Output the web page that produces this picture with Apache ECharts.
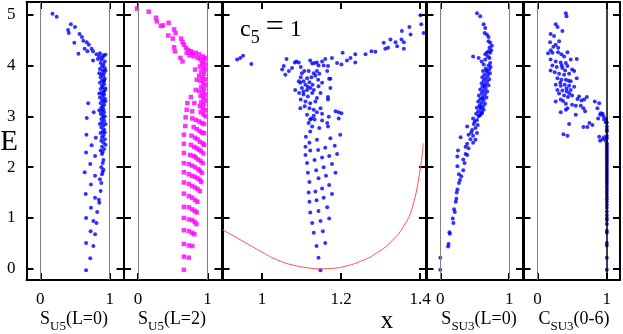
<!DOCTYPE html>
<html>
<head>
<meta charset="utf-8">
<title>echarts</title>
<script src="https://cdn.jsdelivr.net/npm/echarts@6/dist/echarts.min.js"></script>
<style>
  html, body { margin: 0; padding: 0; width: 100%; height: 100%; overflow: hidden; background: #fff; }
  #main { width: 623px; height: 334px; }
</style>
</head>
<body>
<div id="main"></div>
<script>
// ticks
var yTicks = [0, 1, 2, 3, 4, 5];
var unitTicks = [0, 1];
var xTicks = [1, 1.2, 1.4];

// S_U5(L=0)  [s, E]
var sU5L0 = [
  [0.175,5.02],[0.236,4.96],[0.44,4.81],[0.50,4.76],[0.40,4.70],[0.41,4.64],[0.565,4.62],[0.60,4.56],
  [0.62,4.49],[0.49,4.45],[0.67,4.46],[0.70,4.41],[0.64,4.33],[0.68,4.28],[0.74,4.33],[0.76,4.28],
  [0.55,4.23],[0.76,4.10],[0.81,4.22],[0.86,4.24],[0.91,4.20],[0.94,4.21],[0.83,4.13],[0.88,4.12],
  [0.93,4.08],[0.85,4.18],[0.90,4.16],
  [0.87,4.05],[0.91,4.02],[0.89,3.98],[0.93,3.95],[0.86,3.93],[0.90,3.90],[0.92,3.86],[0.88,3.83],
  [0.91,3.80],[0.87,3.77],[0.93,3.74],[0.89,3.71],[0.91,3.68],[0.86,3.66],[0.92,3.63],[0.89,3.60],
  [0.90,3.57],[0.87,3.54],[0.93,3.51],[0.91,3.48],[0.88,3.46],[0.92,3.43],[0.90,3.40],[0.86,3.37],
  [0.93,3.35],[0.89,3.32],[0.91,3.29],[0.87,3.26],[0.92,3.23],[0.90,3.20],[0.88,3.17],[0.91,3.14],
  [0.89,3.11],[0.92,3.08],[0.87,3.05],[0.90,3.02],[0.91,2.98],[0.88,2.95],[0.92,2.92],[0.89,2.88],
  [0.86,2.85],[0.91,2.82],[0.88,2.78],[0.92,2.74],[0.90,2.70],[0.87,2.67],[0.91,2.63],[0.89,2.59],
  [0.93,2.55],[0.88,2.52],[0.91,2.48],[0.94,2.44],[0.89,2.40],[0.92,2.36],[0.87,2.33],[0.90,2.30],
  [0.94,3.90],[0.85,3.85],[0.92,3.70],[0.94,3.55],[0.85,3.45],[0.94,3.30],[0.93,3.00],[0.85,3.12],
  [0.94,2.85],[0.93,2.68],
  [0.69,3.26],[0.77,3.08],[0.67,2.97],[0.665,2.64],[0.80,2.58],[0.74,2.43],[0.79,2.22],[0.66,2.29],
  [0.72,2.06],[0.64,1.90],[0.79,1.83],[0.73,1.66],[0.655,1.47],[0.79,1.40],[0.73,1.20],[0.66,1.00],
  [0.765,0.94],[0.81,0.90],[0.725,0.74],[0.79,0.68],[0.66,0.51],[0.765,0.45],[0.72,0.21],[0.66,-0.03],
  [0.89,2.26],[0.91,2.14],[0.88,2.00],[0.90,1.91],[0.89,1.86],[0.86,1.76],[0.88,1.69],[0.87,1.53],
  [0.845,1.36],[0.85,1.30],[0.82,1.12],[0.90,2.08],[0.91,1.95]
];

// S_U5(L=2)
var sU5L2 = [
  [-0.015,5.12],[0.155,5.06],[0.26,4.94],[0.27,4.87],[0.36,4.79],[0.44,4.84],[0.33,4.78],[0.52,4.71],
  [0.54,4.64],[0.435,4.59],[0.50,4.53],[0.62,4.53],[0.64,4.46],[0.66,4.41],[0.52,4.36],[0.53,4.28],
  [0.69,4.35],[0.72,4.31],[0.76,4.28],[0.78,4.25],[0.83,4.25],[0.61,4.15],[0.64,4.08],[0.88,4.22],
  [0.93,4.18],[0.97,4.15],[0.70,4.25],[0.74,4.20],[0.80,4.18],[0.86,4.15],[0.90,4.12],[0.95,4.10],
  [0.92,4.05],[0.96,4.02],[0.89,3.98],[0.94,3.95],[0.97,3.92],[0.91,3.88],[0.95,3.84],[0.88,3.80],
  [0.93,3.77],[0.96,3.73],[0.90,3.70],[0.94,3.66],[0.97,3.62],[0.91,3.58],[0.95,3.54],[0.88,3.50],
  [0.93,3.47],[0.96,3.43],[0.90,3.40],[0.94,3.36],[0.97,3.32],[0.91,3.28],[0.95,3.24],[0.89,3.20],
  [0.93,3.16],[0.96,3.12],[0.90,3.08],[0.94,3.04],[0.97,3.00],
  [0.82,3.92],[0.845,3.72],[0.83,3.52],[0.76,3.38],[0.81,3.26],[0.71,3.26],[0.70,3.13],[0.78,3.10],
  [0.685,2.98],[0.78,2.96],[0.83,2.93],[0.88,2.90],[0.92,2.87],[0.95,2.85],
  [0.68,2.81],[0.80,2.79],[0.845,2.75],[0.885,2.71],[0.92,2.68],[0.95,2.67],
  [0.66,2.64],[0.77,2.62],[0.82,2.58],[0.855,2.55],[0.89,2.50],[0.93,2.47],[0.95,2.44],
  [0.66,2.46],[0.76,2.44],[0.81,2.40],[0.845,2.37],[0.88,2.34],[0.91,2.31],[0.94,2.27],
  [0.66,2.28],[0.75,2.24],[0.80,2.22],[0.83,2.19],[0.865,2.15],[0.90,2.12],[0.93,2.08],
  [0.66,2.08],[0.73,2.06],[0.78,2.03],[0.82,2.00],[0.865,1.96],[0.89,1.93],[0.92,1.89],
  [0.66,1.90],[0.73,1.86],[0.78,1.83],[0.82,1.81],[0.855,1.78],[0.89,1.75],[0.91,1.71],
  [0.66,1.70],[0.73,1.67],[0.78,1.63],[0.82,1.60],[0.855,1.57],[0.89,1.53],
  [0.66,1.48],[0.73,1.43],[0.78,1.40],[0.82,1.35],[0.855,1.32],
  [0.66,1.22],[0.73,1.21],[0.78,1.17],[0.815,1.14],[0.845,1.11],
  [0.66,1.00],[0.73,0.97],[0.78,0.96],[0.815,0.92],[0.84,0.88],
  [0.66,0.76],[0.73,0.74],[0.78,0.71],[0.81,0.68],
  [0.66,0.49],[0.73,0.46],[0.78,0.45],
  [0.66,0.24],[0.73,0.22],
  [0.66,-0.02]
];

// c5 = 1 panel  [x, E]
var xPts = [
  [0.937,4.12],[0.945,4.15],[0.952,4.19],[0.973,4.03],
  [1.177,4.15],[1.190,4.05],[1.201,4.02],[1.204,4.25],[1.215,4.10],[1.224,4.15],[1.236,4.22],[1.236,4.06],
  [1.262,4.22],[1.277,4.28],[1.287,4.27],[1.308,4.45],[1.312,4.33],[1.319,4.35],[1.325,4.51],[1.338,4.46],
  [1.342,4.38],[1.353,4.51],[1.354,4.68],[1.359,4.46],[1.359,4.33],[1.373,4.76],[1.376,4.61],[1.401,4.99],
  [1.403,4.81],[1.409,4.64],[1.165,3.89],[1.173,3.74],[1.167,3.99],
  [1.148,-0.03],[1.143,0.22],[1.138,0.45],[1.160,0.51],[1.131,0.71],[1.154,0.74],[1.127,0.90],[1.148,0.94],
  [1.170,0.99],[1.122,1.11],[1.143,1.14],[1.165,1.21],[1.120,1.32],[1.138,1.35],[1.156,1.40],[1.118,1.50],
  [1.135,1.52],[1.152,1.58],[1.177,1.47],[1.120,1.71],[1.143,1.78],[1.162,1.83],[1.170,1.65],[1.116,1.89],
  [1.137,1.94],[1.156,2.00],[1.177,2.06],[1.186,1.89],[1.114,2.08],[1.133,2.14],[1.152,2.19],[1.170,2.22],
  [1.190,2.26],[1.110,2.24],[1.122,2.33],[1.142,2.34],[1.160,2.38],[1.184,2.42],[1.110,2.40],[1.120,2.48],
  [1.139,2.54],[1.173,2.57],[1.198,2.64],[1.111,2.60],[1.122,2.70],[1.127,2.80],[1.145,2.77],[1.165,2.87],
  [1.194,2.96],[1.201,3.06],[1.118,2.87],[1.122,2.94],[1.131,3.01],[1.152,2.92],[1.167,2.80],[1.169,2.99],
  [1.186,3.10],
  [1.055,3.99],[1.051,3.92],[1.059,3.82],[1.062,4.13],[1.068,3.89],[1.076,3.95],[1.083,4.06],[1.087,4.08],
  [1.093,4.06],[1.098,3.97],[1.098,3.77],[1.107,3.89],[1.122,4.10],[1.127,4.04],[1.133,4.05],[1.139,4.06],
  [1.143,4.00],[1.152,4.08],[1.156,4.00],[1.160,4.13],[1.139,3.89],[1.145,3.84],[1.135,3.80],[1.142,3.72],
  [1.125,3.77],[1.114,3.75],[1.105,3.69],[1.097,3.66],[1.110,3.62],[1.120,3.67],[1.128,3.62],[1.101,3.56],
  [1.114,3.52],[1.122,3.56],[1.131,3.52],[1.084,3.52],[1.094,3.46],[1.105,3.43],[1.116,3.39],[1.127,3.46],
  [1.139,3.36],[1.098,3.33],[1.110,3.29],[1.122,3.26],[1.135,3.29],[1.097,3.16],[1.108,3.20],[1.120,3.16],
  [1.131,3.13],[1.139,3.08],[1.152,3.05],[1.148,3.16],[1.114,3.03],[1.125,2.96],[1.133,2.94],[1.167,3.33],
  [1.167,3.38],[1.194,3.08],[1.170,3.74],[1.173,3.56],[1.101,3.85],[1.131,3.85],[1.118,3.89],[1.093,3.69],
  [1.105,3.49],[1.116,3.58],[1.143,3.59],[1.152,3.66],[1.148,3.46]
];

// red curve
var curveX = [0.900, 0.950, 1.000, 1.040, 1.080, 1.120, 1.150, 1.180, 1.210, 1.250, 1.290, 1.330, 1.360, 1.380, 1.400, 1.408];
var curveE = [0.77, 0.55, 0.33, 0.17, 0.07, 0.015, 0.0, 0.01, 0.05, 0.15, 0.31, 0.56, 0.86, 1.20, 1.94, 2.47];

// S_SU3(L=0)
var sSU3L0 = [
  [0.533,5.03],[0.58,4.97],[0.629,4.81],[0.652,4.74],[0.643,4.64],[0.676,4.61],[0.70,4.56],[0.70,4.48],
  [0.724,4.45],[0.748,4.39],[0.714,4.35],[0.70,4.28],[0.676,4.25],[0.652,4.22],[0.724,4.25],[0.476,4.18],
  [0.557,4.15],[0.652,4.12],[0.60,4.08],[0.714,4.15],[0.724,4.05],[0.69,4.18],[0.74,4.30],
  [0.63,4.02],[0.70,4.00],[0.73,3.97],[0.66,3.94],[0.71,3.92],[0.62,3.89],[0.68,3.87],[0.72,3.85],
  [0.64,3.82],[0.69,3.80],[0.61,3.77],[0.66,3.75],[0.71,3.73],[0.63,3.70],[0.68,3.68],[0.60,3.65],
  [0.65,3.63],[0.70,3.61],[0.61,3.58],[0.66,3.56],[0.58,3.53],[0.63,3.51],[0.68,3.49],[0.60,3.46],
  [0.65,3.44],[0.56,3.41],[0.62,3.39],[0.67,3.37],[0.58,3.34],[0.63,3.32],[0.55,3.29],[0.60,3.27],
  [0.65,3.25],[0.57,3.22],[0.62,3.20],[0.53,3.17],[0.59,3.15],[0.63,3.13],[0.55,3.10],[0.60,3.08],
  [0.52,3.05],[0.57,3.02],[0.67,3.90],[0.64,3.60],[0.61,3.35],[0.58,3.18],
  [0.0,-0.02],[0.0,0.22],[0.114,0.44],[0.12,0.49],[0.138,0.69],[0.133,0.72],[0.19,0.90],[0.18,0.99],
  [0.21,1.12],[0.20,1.17],[0.224,1.32],[0.233,1.38],[0.238,1.50],[0.248,1.56],[0.271,1.69],[0.286,1.75],
  [0.305,1.82],[0.271,1.86],[0.333,1.94],[0.248,2.02],[0.352,2.08],[0.333,2.15],[0.248,2.21],[0.367,2.26],
  [0.39,2.24],[0.257,2.33],[0.367,2.40],[0.41,2.37],[0.39,2.46],[0.476,2.48],[0.295,2.59],[0.438,2.55],
  [0.51,2.54],[0.41,2.64],[0.476,2.62],[0.533,2.67],[0.39,2.80],[0.462,2.73],[0.51,2.77],[0.486,2.85],
  [0.543,2.83],[0.476,2.96],[0.533,2.93],[0.557,3.00],[0.581,3.03],[0.605,3.06],[0.45,2.68],[0.50,2.90]
];

// C_SU3(0-6)
var cSU3 = [
  [0.41,5.03],[0.42,4.97],[0.264,4.81],[0.29,4.76],[0.36,4.68],[0.19,4.62],[0.24,4.58],[0.183,4.46],
  [0.313,4.48],[0.264,4.41],[0.23,4.37],[0.192,4.30],[0.154,4.24],[0.216,4.25],[0.298,4.26],[0.346,4.22],
  [0.385,4.18],[0.433,4.26],[0.48,4.12],[0.567,4.13],[0.19,4.12],[0.264,4.08],[0.336,4.06],[0.41,4.05],
  [0.216,4.00],[0.279,3.97],[0.36,3.95],[0.433,3.99],[0.50,3.92],[0.19,3.90],[0.25,3.87],[0.313,3.84],
  [0.385,3.82],[0.457,3.84],[0.53,3.89],[0.567,3.75],[0.288,3.75],[0.346,3.72],[0.41,3.72],[0.48,3.69],
  [0.264,3.62],[0.336,3.60],[0.394,3.62],[0.457,3.60],[0.53,3.58],[0.288,3.52],[0.36,3.51],[0.423,3.49],
  [0.48,3.52],[0.313,3.45],[0.385,3.41],[0.44,3.38],[0.50,3.41],[0.577,3.34],[0.60,3.39],[0.635,3.31],
  [0.673,3.33],[0.712,3.38],[0.264,3.29],[0.336,3.33],[0.41,3.25],[0.433,3.16],[0.50,3.23],[0.553,3.21],
  [0.625,3.21],[0.663,3.16],[0.336,3.08],[0.41,3.13],[0.553,3.03],[0.688,3.10],[0.827,3.29],[0.89,3.26],
  [0.865,3.16],[0.875,2.96],[0.904,3.03],[0.913,3.06],[0.94,3.05],[0.952,3.00],[0.96,2.94],[0.986,2.88],
  [0.457,2.85],[0.663,2.79],[0.72,2.79],[0.75,2.87],[0.793,2.83],[0.375,2.65],[0.433,2.62],[0.89,2.60],
  [0.904,2.52],[0.94,2.55],[0.96,2.59],[0.986,2.52],[1,2.80],[1,2.70],
  [0.30,4.35],[0.35,4.00],[0.40,3.90],[0.45,3.70],[0.33,3.66],[0.42,3.55],[0.37,3.30],[0.46,3.45],
  [1,2.88],[1,2.74],[1,2.62],[1,2.57],[0.99,2.95],
  [1,2.47],[1,2.43],[1,2.39],[1,2.35],[1,2.31],[1,2.27],[1,2.23],[1,2.19],[1,2.15],[1,2.11],[1,2.07],
  [1,2.03],[1,1.99],[1,1.95],[1,1.91],[1,1.87],[1,1.83],[1,1.79],[1,1.75],[1,1.71],[1,1.67],[1,1.62],
  [1,1.57],[1,1.52],[1,1.47],[1,1.42],[1,1.37],[1,1.32],[1,1.26],[1,1.20],[1,1.13],[1,1.06],[1,1.00],
  [1,0.96],[1,0.88],[1,0.75],[1,0.71],[1,0.51],[1,0.46],[1,0.22],[1,-0.02]
];

var font = 'Liberation Serif';
var grids = [
  { left: 26.5, width: 97 },
  { left: 124, width: 97.5 },
  { left: 222.5, width: 203.5 },
  { left: 426.5, width: 96.5 },
  { left: 523.5, width: 96.5 }
];
var xRanges = [[-0.2, 1.2], [-0.2, 1.2], [0.9, 1.415], [-0.2, 1.2], [-0.2, 1.19]];
var xTickSets = [unitTicks, unitTicks, xTicks, unitTicks, unitTicks];

var lineStyle = { color: '#000', width: 2 };
var xAxes = [], yAxes = [];
grids.forEach(function (g, i) {
  g.top = 2; g.bottom = 54;
  ['bottom', 'top'].forEach(function (pos) {
    xAxes.push({
      type: 'value', gridIndex: i, position: pos,
      min: xRanges[i][0], max: xRanges[i][1],
      axisLine: { show: true, onZero: false, lineStyle: lineStyle },
      axisTick: { show: true, inside: true, length: 7, lineStyle: lineStyle, customValues: xTickSets[i] },
      axisLabel: { show: pos === 'bottom', customValues: xTickSets[i], margin: 11,
        fontFamily: font, fontSize: 17, color: '#000' },
      splitLine: { show: false }
    });
  });
  ['left', 'right'].forEach(function (pos) {
    yAxes.push({
      type: 'value', gridIndex: i, position: pos,
      min: -0.22, max: 5.25,
      axisLine: { show: true, onZero: false, lineStyle: lineStyle },
      axisTick: { show: true, inside: true, length: 7, lineStyle: lineStyle, customValues: yTicks },
      axisLabel: { show: i === 0 && pos === 'left', customValues: yTicks, margin: 11,
        fontFamily: font, fontSize: 17, color: '#000' },
      splitLine: { show: false }
    });
  });
});

function guides(color, width) {
  return {
    silent: true, symbol: 'none', label: { show: false },
    lineStyle: { color: color, width: width, type: 'solid' },
    data: [{ xAxis: 0 }, { xAxis: 1 }]
  };
}

function dots(idx, data, color, shape, size, ml) {
  var s = {
    type: 'scatter', xAxisIndex: idx * 2, yAxisIndex: idx * 2,
    data: data, symbol: shape, symbolSize: size,
    itemStyle: { color: color }, silent: true, animation: false
  };
  if (ml) s.markLine = ml;
  return s;
}

var series = [
  dots(0, sU5L0, '#0000ff', 'circle', 4, guides('#808080', 1)),
  dots(1, sU5L2, '#ff00ff', 'rect', 4.5, guides('#808080', 1)),
  dots(2, xPts, '#0000ff', 'circle', 4),
  {
    type: 'line', xAxisIndex: 4, yAxisIndex: 4, smooth: true, showSymbol: false,
    data: curveX.map(function (x, k) { return [x, curveE[k]]; }),
    lineStyle: { color: '#ff5050', width: 1 }, silent: true, animation: false
  },
  dots(3, sSU3L0, '#0000ff', 'circle', 4, guides('#808080', 1)),
  dots(4, cSU3, '#0000ff', 'circle', 4, {
    silent: true, symbol: 'none', label: { show: false },
    data: [
      { xAxis: 0, lineStyle: { color: '#808080', width: 1, type: 'solid' } },
      { xAxis: 1, lineStyle: { color: '#000', width: 1.5, type: 'solid' } }
    ]
  })
];

function subLabel(main, sub, rest, cx) {
  return {
    type: 'text', x: cx, y: 322,
    style: {
      text: '{a|' + main + '}{b|' + sub + '}{a|' + rest + '}',
      align: 'center', verticalAlign: 'middle',
      rich: {
        a: { fontFamily: font, fontSize: 18, color: '#000', verticalAlign: 'bottom', padding: [0, 0, 5, 0] },
        b: { fontFamily: font, fontSize: 13, color: '#000', verticalAlign: 'bottom' }
      }
    }
  };
}

var option = {
  backgroundColor: '#fff',
  animation: false,
  grid: grids,
  xAxis: xAxes,
  yAxis: yAxes,
  series: series,
  graphic: [
    { type: 'text', x: 9, y: 142, style: { text: 'E', fontFamily: font, fontSize: 29, fill: '#000', align: 'center', verticalAlign: 'middle' } },
    { type: 'text', x: 387, y: 321, style: { text: 'x', fontFamily: font, fontSize: 25, fill: '#000', align: 'center', verticalAlign: 'middle' } },
    subLabel('S', 'U5', '(L=0)', 74),
    subLabel('S', 'U5', '(L=2)', 172),
    subLabel('S', 'SU3', '(L=0)', 479),
    subLabel('C', 'SU3', '(0-6)', 574),
    {
      type: 'text', x: 240, y: 12,
      style: {
        text: '{a|c}{b|5}{a| }{e|=}{a| 1}',
        rich: {
          a: { fontFamily: font, fontSize: 24, color: '#000', verticalAlign: 'bottom', padding: [0, 0, 5, 0] },
          b: { fontFamily: font, fontSize: 18, color: '#000', verticalAlign: 'bottom' },
          e: { fontFamily: font, fontSize: 32, color: '#000', verticalAlign: 'bottom', padding: [0, 0, 3, 0] }
        }
      }
    }
  ]
};

var myChart = echarts.init(document.getElementById('main'), null, { renderer: 'canvas' });
myChart.setOption(option);
</script>
</body>
</html>
